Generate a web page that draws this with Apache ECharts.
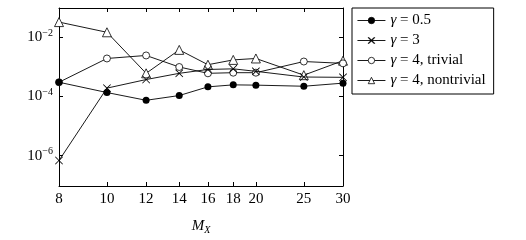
<!DOCTYPE html>
<html>
<head>
<meta charset="utf-8">
<script src="https://cdn.jsdelivr.net/npm/echarts@6/dist/echarts.min.js"></script>
<style>
html,body{margin:0;padding:0;background:#fff;}
#chart{width:526px;height:240px;}
</style>
</head>
<body>
<div id="chart"></div>
<script>
var mx = [8, 10, 12, 14, 16, 18, 20, 25, 30];
var xTicks = [8, 10, 12, 14, 16, 18, 20, 25, 30];
var yTicks = [1e-6, 1e-4, 1e-2];
var seriesNames = ['γ = 0.5', 'γ = 3', 'γ = 4, trivial', 'γ = 4, nontrivial'];
var g05 = [3.0e-4, 1.35e-4, 7.4e-5, 1.07e-4, 2.1e-4, 2.45e-4, 2.4e-4, 2.2e-4, 2.8e-4];
var g3 = [6.9e-7, 1.9e-4, 3.7e-4, 6.0e-4, 8.1e-4, 8.5e-4, 7.0e-4, 4.5e-4, 4.4e-4];
var g4t = [3.0e-4, 1.9e-3, 2.4e-3, 9.8e-4, 6.0e-4, 6.3e-4, 6.3e-4, 1.5e-3, 1.3e-3];
var g4n = [3.2e-2, 1.45e-2, 6.0e-4, 3.7e-3, 1.17e-3, 1.7e-3, 1.9e-3, 5.2e-4, 1.6e-3];

var FONT = '"Liberation Serif", "DejaVu Serif", serif';
var crossPath = 'path://M0,0.7L0.7,0L5,4.3L9.3,0L10,0.7L5.7,5L10,9.3L9.3,10L5,5.7L0.7,10L0,9.3L4.3,5Z';

function pairs(ys) { return mx.map(function (x, i) { return [x, ys[i]]; }); }

function mkSeries(name, ys, symbol, size, z, fill) {
  return {
    name: name, type: 'line', data: pairs(ys), xAxisIndex: 0, yAxisIndex: 0,
    symbol: symbol, symbolSize: size, z: z,
    lineStyle: { color: '#000', width: 0.9 },
    itemStyle: { color: fill, borderColor: '#000', borderWidth: fill === '#fff' ? 0.8 : 0 },
    emphasis: { disabled: true }, animation: false
  };
}

var chart = echarts.init(document.getElementById('chart'), null, { renderer: 'canvas' });
var axisLine = { show: true, lineStyle: { color: '#000', width: 1 } };
var option = {
  backgroundColor: '#fff',
  animation: false,
  grid: { left: 59, top: 8, width: 284, height: 189 },
  legend: {
    orient: 'vertical', left: 352, top: 8,
    data: seriesNames,
    borderColor: '#000', borderWidth: 1, padding: [5, 8, 6, 5],
    itemWidth: 28, itemHeight: 8, itemGap: 5,
    itemStyle: { borderWidth: 0.8 },
    lineStyle: { width: 0.9 },
    textStyle: {
      fontFamily: FONT, fontSize: 15, color: '#000',
      rich: { i: { fontFamily: FONT, fontSize: 15, fontStyle: 'italic', color: '#000' } }
    },
    formatter: function (n) { return n.replace('γ', '{i|γ}'); }
  },
  xAxis: [{
    type: 'log', logBase: 10, min: 8, max: 30, position: 'bottom',
    axisLine: axisLine, splitLine: { show: false }, minorTick: { show: false },
    axisTick: { show: true, inside: true, length: 4, customValues: xTicks, lineStyle: { color: '#000' } },
    axisLabel: { show: true, customValues: xTicks, margin: 6, fontFamily: FONT, fontSize: 15, color: '#000',
      formatter: function (v) { return String(Math.round(v)); } },
    name: '{m|M}{s|X}', nameLocation: 'middle', nameGap: 32,
    nameTextStyle: { rich: {
      m: { fontFamily: FONT, fontSize: 15, fontStyle: 'italic', color: '#000' },
      s: { fontFamily: FONT, fontSize: 10, fontStyle: 'italic', color: '#000', padding: [7, 0, 0, 0] }
    } }
  }, {
    type: 'log', logBase: 10, min: 8, max: 30, position: 'top',
    axisLine: axisLine, splitLine: { show: false },
    axisTick: { show: true, inside: true, length: 4, customValues: xTicks, lineStyle: { color: '#000' } },
    axisLabel: { show: false }
  }],
  yAxis: [{
    type: 'log', logBase: 10, min: Math.pow(10, -7.02), max: Math.pow(10, -1.02), position: 'left',
    axisLine: axisLine, splitLine: { show: false }, minorTick: { show: false },
    axisTick: { show: true, inside: true, length: 4, customValues: yTicks, lineStyle: { color: '#000' } },
    axisLabel: { show: true, customValues: yTicks, margin: 6, fontFamily: FONT, fontSize: 15, color: '#000',
      formatter: function (v) {
        var e = Math.round(Math.log10(v));
        return '{b|10}{s|' + (e < 0 ? '−' + (-e) : e) + '}';
      },
      rich: {
        b: { fontFamily: FONT, fontSize: 15, color: '#000' },
        s: { fontFamily: FONT, fontSize: 10, color: '#000', padding: [0, 0, 8, 0] }
      }
    }
  }, {
    type: 'log', logBase: 10, min: Math.pow(10, -7.02), max: Math.pow(10, -1.02), position: 'right',
    axisLine: axisLine, splitLine: { show: false },
    axisTick: { show: true, inside: true, length: 4, customValues: yTicks, lineStyle: { color: '#000' } },
    axisLabel: { show: false }
  }],
  series: [
    mkSeries(seriesNames[0], g05, 'circle', 7, 5, '#000'),
    mkSeries(seriesNames[1], g3, crossPath, 8, 4, '#000'),
    mkSeries(seriesNames[2], g4t, 'circle', 7, 3, '#fff'),
    mkSeries(seriesNames[3], g4n, 'triangle', 9, 2, '#fff')
  ]
};
chart.setOption(option);
</script>
</body>
</html>
